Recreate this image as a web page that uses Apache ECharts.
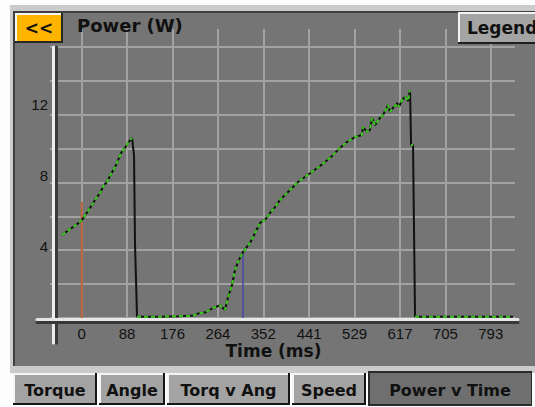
<!DOCTYPE html>
<html><head><meta charset="utf-8">
<style>html,body{margin:0;padding:0;background:#fdfdfd}#c{width:535px;height:407px}</style>
<script src="https://cdn.jsdelivr.net/npm/echarts@6/dist/echarts.min.js"></script>
</head><body><div id="c"></div>
<script>
// ---- data ----
const timeMs = [-38.2,-22.7,-11,0.6,8.3,16.1,25.8,35.5,43.2,49.1,56.8,64.6,72.3,76.2,84,89.8,97.5,101.4,103.3,107.2,151.8,190.6,215.8,229.4,239,254.6,264.3,268.2,277.9,283.7,291.4,297.2,303.1,312.7,326.3,336,345.7,355.4,365.1,374.8,384.5,403.8,419.3,440.6,462,481.2,500.6,514.2,529.7,543.3,545.2,553,558.8,562.7,568.5,578.3,584.1,593.8,597.7,603.5,611.3,615.2,621,626.8,632.6,636.5,638.5,642.3,646.2,700,760,836];
const powerW = [4.9,5.25,5.49,5.79,6.14,6.49,6.97,7.38,7.85,8.03,8.5,8.91,9.44,9.74,10.04,10.33,10.63,9.62,4.43,0.08,0.08,0.1,0.15,0.3,0.32,0.59,0.71,0.74,0.47,1.24,1.95,2.83,3.31,3.9,4.43,5.02,5.61,5.79,6.2,6.55,6.97,7.56,8.03,8.5,8.97,9.44,10.04,10.39,10.68,10.8,11.28,10.98,11.1,11.81,11.39,11.81,11.98,12.57,12.16,12.4,12.69,12.46,12.87,13.05,12.81,13.46,10.21,10.21,0.08,0.08,0.08,0.08];
const xTicks = [0, 88, 176, 264, 352, 441, 529, 617, 705, 793];
const yGridValues = [0, 2, 4, 6, 8, 10, 12, 14, 16];
const yLabelValues = [4, 8, 12];
const redCursor = [0, 6.85];     // [time ms, top W]
const blueCursor = [312.7, 3.9]; // [time ms, top W]
const tabs = ['Torque', 'Angle', 'Torq v Ang', 'Speed', 'Power v Time'];
const activeTab = 'Power v Time';

// ---- layout ----
const tabBounds = [[13,97],[99,165],[167,290],[292,366],[368,532]];
const FONT = 'DejaVu Sans';
const TICKFONT = 'Liberation Sans';

const trace = timeMs.map((t, i) => [t, powerW[i]]);
// green overlay skips the sharp fall-offs
const greenTrace = [];
for (let i = 0; i < trace.length; i++) {
  greenTrace.push(trace[i]);
  if (i < trace.length - 1 && powerW[i + 1] - powerW[i] < -0.5) {
    greenTrace.push([(timeMs[i] + timeMs[i + 1]) / 2, '-']);
  }
}

const graphics = [
  {type:'rect', z:-20, shape:{x:10,y:5,width:525,height:368}, style:{fill:'#cbcbcb'}},
  {type:'rect', z:-19, shape:{x:13,y:11,width:522,height:355}, style:{fill:'#3e3e3e'}},
  {type:'rect', z:-18, shape:{x:15,y:13,width:520,height:353}, style:{fill:'#757575'}},
  // << button
  {type:'rect', z:50, shape:{x:15,y:13,width:48,height:30}, style:{fill:'#262626'}},
  {type:'rect', z:51, shape:{x:15,y:13,width:46,height:28}, style:{fill:'#f6f6f6'}},
  {type:'rect', z:52, shape:{x:17,y:15,width:44,height:26}, style:{fill:'#ffb400'}},
  {type:'text', z:53, x:39, y:28, style:{text:'<<', font:'bold 17px "'+FONT+'"', fill:'#111', align:'center', verticalAlign:'middle'}},
  // Legend button
  {type:'rect', z:50, shape:{x:458,y:12,width:77,height:32}, style:{fill:'#1e1e1e'}},
  {type:'rect', z:51, shape:{x:458,y:12,width:77,height:30}, style:{fill:'#f4f4f4'}},
  {type:'rect', z:52, shape:{x:460,y:14,width:75,height:28}, style:{fill:'#a4a4a4'}},
  {type:'text', z:53, x:467, y:28, style:{text:'Legend', font:'bold 17px "'+FONT+'"', fill:'#111', align:'left', verticalAlign:'middle'}}
];
tabs.forEach((name, i) => {
  const [x0, x1] = tabBounds[i];
  const w = x1 - x0;
  if (name === activeTab) {
    graphics.push({type:'rect', z:50, shape:{x:x0,y:371,width:w,height:35}, style:{fill:'#2a2a2a'}});
    graphics.push({type:'rect', z:51, shape:{x:x0+2,y:373,width:w-3,height:31}, style:{fill:'#6f6f6f'}});
  } else {
    graphics.push({type:'rect', z:50, shape:{x:x0,y:373,width:w,height:32}, style:{fill:'#151515'}});
    graphics.push({type:'rect', z:51, shape:{x:x0,y:373,width:w-2,height:30}, style:{fill:'#f4f4f4'}});
    graphics.push({type:'rect', z:52, shape:{x:x0+2,y:375,width:w-4,height:28}, style:{fill:'#a3a3a3'}});
  }
  graphics.push({type:'text', z:53, x:(x0+x1)/2, y:390, style:{text:name, font:'bold 16px "'+FONT+'"', fill:'#111', align:'center', verticalAlign:'middle'}});
});

const hidden = {show:false};
const option = {
  animation: false,
  backgroundColor: 'transparent',
  title: {text:'Power (W)', left:72, top:11, textStyle:{fontFamily:FONT, fontWeight:'bold', fontSize:18, color:'#111'}},
  graphic: graphics,
  grid: [
    {left:50, right:20, top:29, bottom:89, outerBoundsMode:'none', containLabel:false},
    {left:37, right:17, top:319.5, height:3, outerBoundsMode:'none', containLabel:false},
    {left:53.5, width:3, top:47, bottom:64, outerBoundsMode:'none', containLabel:false}
  ],
  xAxis: [
    {gridIndex:0, type:'value', min:-61.5, max:840,
     axisLine:hidden, axisTick:{show:false, customValues:xTicks},
     axisLabel:{customValues:xTicks, margin:8, fontFamily:TICKFONT, fontSize:15, color:'#111', hideOverlap:false},
     splitLine:{show:true, lineStyle:{color:'#a2a2a2', width:2}}},
    {gridIndex:1, type:'value', min:0, max:1, position:'top',
     axisLine:{show:true, onZero:false, lineStyle:{color:'#e6e6e6', width:3}},
     axisTick:hidden, axisLabel:hidden, splitLine:hidden},
    {gridIndex:1, type:'value', min:0, max:1, position:'bottom',
     axisLine:{show:true, onZero:false, lineStyle:{color:'#383838', width:3}},
     axisTick:hidden, axisLabel:hidden, splitLine:hidden,
     name:'Time (ms)', nameLocation:'middle', nameGap:20,
     nameTextStyle:{fontFamily:FONT, fontWeight:'bold', fontSize:17, color:'#111', padding:[0,8,0,0]}},
    {gridIndex:2, type:'value', min:0, max:1, show:false}
  ],
  yAxis: [
    {gridIndex:0, type:'value', min:0, max:17.06, position:'left',
     axisLine:hidden, axisTick:{show:false, customValues:yGridValues}, axisLabel:hidden,
     splitLine:{show:true, lineStyle:{color:'#a2a2a2', width:2}}},
    {gridIndex:0, type:'value', min:0, max:16.28, position:'left',
     axisLine:hidden, axisTick:{show:false, customValues:yLabelValues},
     axisLabel:{customValues:yLabelValues, margin:2, fontFamily:TICKFONT, fontSize:15, color:'#111'},
     splitLine:hidden},
    {gridIndex:1, type:'value', min:0, max:1, show:false},
    {gridIndex:2, type:'value', min:0, max:1, position:'left',
     axisLine:{show:true, onZero:false, lineStyle:{color:'#ececec', width:3}},
     axisTick:hidden, axisLabel:hidden, splitLine:hidden},
    {gridIndex:2, type:'value', min:0, max:1, position:'right',
     axisLine:{show:true, onZero:false, lineStyle:{color:'#3a3a3a', width:3}},
     axisTick:hidden, axisLabel:hidden, splitLine:hidden}
  ],
  series: [
    {type:'line', xAxisIndex:0, yAxisIndex:0, data:[[redCursor[0],0],[redCursor[0],redCursor[1]]],
     showSymbol:false, silent:true, lineStyle:{color:'#b8623a', width:2}, z:3},
    {type:'line', xAxisIndex:0, yAxisIndex:0, data:[[blueCursor[0],0],[blueCursor[0],blueCursor[1]]],
     showSymbol:false, silent:true, lineStyle:{color:'#4848aa', width:1.5}, z:3},
    {type:'line', xAxisIndex:0, yAxisIndex:0, data:trace, showSymbol:false, silent:true,
     lineStyle:{color:'#111', width:2}, z:4},
    {type:'line', xAxisIndex:0, yAxisIndex:0, data:greenTrace, showSymbol:false, silent:true, connectNulls:false,
     lineStyle:{color:'#3ccc1e', width:2, type:[4,3]}, z:5}
  ]
};
const chart = echarts.init(document.getElementById('c'), null, {renderer:'svg'});
chart.setOption(option);
</script>
</body></html>
